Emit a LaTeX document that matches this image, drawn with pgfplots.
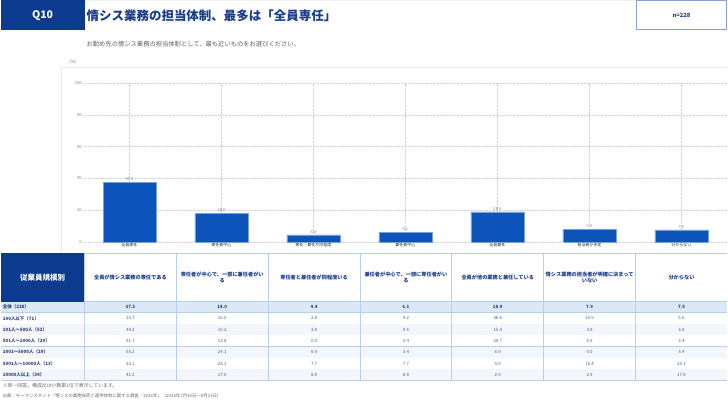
\documentclass[border=0pt]{standalone}
\usepackage{fontspec}
\setmainfont{Noto Sans CJK JP}
\usepackage{pgfplots}
\pgfplotsset{compat=1.18}
\definecolor{barblue}{RGB}{12,84,186}
\definecolor{navy}{RGB}{11,58,142}
\definecolor{titleblue}{RGB}{28,60,140}
\definecolor{lineblue}{RGB}{185,206,234}
\definecolor{rowblue}{RGB}{220,232,246}
\definecolor{rowlight}{RGB}{243,247,252}
\definecolor{txtblue}{RGB}{40,65,125}
\definecolor{hdrblue}{RGB}{30,62,140}
\newcommand{\fs}[1]{\fontsize{#1}{#1}\selectfont}
\begin{document}
\begin{tikzpicture}[x=1pt,y=1pt]
\fill[white] (0,0) rectangle (728,401);
% ---------- chart ----------
\begin{axis}[
  at={(83pt,158.7pt)}, anchor=south west,
  scale only axis, width=645pt, height=159pt,
  xmin=-0.5, xmax=6.5, ymin=0, ymax=100,
  axis line style={draw=none},
  major tick length=0pt,
  xtick={0,...,6},
  xticklabels={全員専任,専任者中心,専任・兼任が同程度,兼任者中心,全員兼任,担当者が未定,分からない},
  ytick={0,20,40,60,80,100},
  grid=major,
  grid style={densely dotted, gray!35, line width=0.4pt},
  xticklabel style={font=\fs{4}, text={rgb,255:red,40;green,40;blue,40}, inner sep=1pt},
  yticklabel style={font=\fs{4.2}, gray, inner sep=1.5pt},
  /pgf/number format/assume math mode=true,
  ybar, bar width=53pt, bar shift=0pt,
  nodes near coords={\pgfmathprintnumber[fixed,fixed zerofill,precision=1]{\pgfplotspointmeta}},
  every node near coord/.append style={font=\fs{4}, gray, inner sep=1.5pt},
  clip=false,
]
\addplot[fill=barblue, draw=barblue!55!white, line width=0.5pt] coordinates {(0,37.3) (1,18.0) (2,4.4) (3,6.1) (4,18.9) (5,7.9) (6,7.5)};
\end{axis}
% ---------- title area ----------
\fill[navy] (0,370.5) rectangle (84.5,401);
\node[white,font=\fs{10.5}\bfseries] at (42,385.5) {Q10};
\node[titleblue,font=\fs{12.5}\bfseries,anchor=west,inner sep=0] at (86,385.5) {情シス業務の担当体制、最多は「全員専任」};
\draw[gray!12] (84.5,400.5) -- (636,400.5);
\draw[draw={rgb,255:red,135;green,160;blue,205},line width=1pt] (636.5,371) rectangle (727.5,400.5);
\node[titleblue,font=\fs{5.8}\bfseries] at (682,386) {n=228};
\node[gray!75!black,font=\fs{6.3},anchor=west,inner sep=0] at (86,357) {お勤め先の情シス業務の担当体制として、最も近いものをお選びください。};
% ---------- chart box ----------
\draw[gray!18] (60.5,148) -- (60.5,333.5) -- (728,333.5);
\node[gray,font=\fs{4.5}] at (72.5,339) {(\%)};
% ---------- table ----------
\fill[white] (0,99) rectangle (728,147);
\fill[navy] (0,99) rectangle (84,147.5);
\node[white,font=\fs{7.5}\bfseries] at (42,123) {従業員規模別};
\foreach \h [count=\j from 0] in {全員が情シス業務の専任である,{専任者が中心で、一部に兼任者がい\\る},専任者と兼任者が同程度いる,{兼任者が中心で、一部に専任者がい\\る},全員が他の業務と兼任している,{情シス業務の担当者が明確に決まって\\いない},分からない}{
  \pgfmathsetmacro\cx{130+92*\j}
  \node[hdrblue,font=\fontsize{5.2}{6.3}\selectfont\bfseries,align=center,inner sep=0] at (\cx,123) {\h};
}
\foreach \lab/\vals [count=\k from 0] in {
  {全体（228）}/{37.3,18.0,4.4,6.1,18.9,7.9,7.5},
  {100人以下（71）}/{19.7,15.5,2.8,4.2,36.6,15.5,5.6},
  {101人～500人（52）}/{44.2,19.2,3.8,9.6,15.4,3.8,3.8},
  {501人～1000人（29）}/{51.7,13.8,0.0,3.4,20.7,6.9,3.4},
  {1001～5000人（29）}/{55.2,24.1,6.9,3.4,6.9,0.0,3.4},
  {5001人～10000人（13）}/{23.1,23.1,7.7,7.7,0.0,15.4,23.1},
  {10000人以上（34）}/{41.2,17.6,8.8,8.8,2.9,2.9,17.6}}{
  \pgfmathsetmacro\yt{99-11.3*\k}
  \pgfmathsetmacro\yb{99-11.3*(\k+1)}
  \pgfmathsetmacro\ym{99-11.3*(\k+0.5)}
  \ifnum\k=0
    \fill[rowblue] (0,\yb) rectangle (728,\yt);
  \else\ifodd\k
    \fill[white] (0,\yb) rectangle (728,\yt);
  \else
    \fill[rowlight] (0,\yb) rectangle (728,\yt);
  \fi\fi
  \draw[lineblue,line width=0.8pt] (0,\yb) -- (728,\yb);
  \node[txtblue,font=\fs{4.5}\bfseries,anchor=west,inner sep=0] at (2,\ym) {\lab};
  \foreach \v [count=\j from 0] in \vals {
    \pgfmathsetmacro\cx{130+92*\j}
    \ifnum\k=0
      \node[txtblue,font=\fs{4.4}\bfseries,inner sep=0] at (\cx,\ym) {\v};
    \else
      \node[txtblue!85,font=\fs{4.4},inner sep=0] at (\cx,\ym) {\v};
    \fi
  }
}
\draw[lineblue,line width=0.8pt] (84,147.2) -- (728,147.2);
\draw[lineblue,line width=1.2pt] (0,99) -- (728,99);
\foreach \xx in {84,176,268,360,452,544,636}{
  \draw[lineblue,line width=1pt] (\xx,19.9) -- (\xx,147.5);
}
\fill[navy] (0,98.3) rectangle (84,99.7);
% ---------- footnotes ----------
\node[gray!85!black,font=\fs{4.9},anchor=west,inner sep=0] at (2,15) {※単一回答。構成比は小数第1位で表示しています。};
\node[gray!85!black,font=\fs{4.4},anchor=west,inner sep=0] at (2,4.5) {出典：キーマンズネット「情シスの業務負荷と運用体制に関する調査／2026年」（2026年7月30日～8月23日）};
\end{tikzpicture}
\end{document}
